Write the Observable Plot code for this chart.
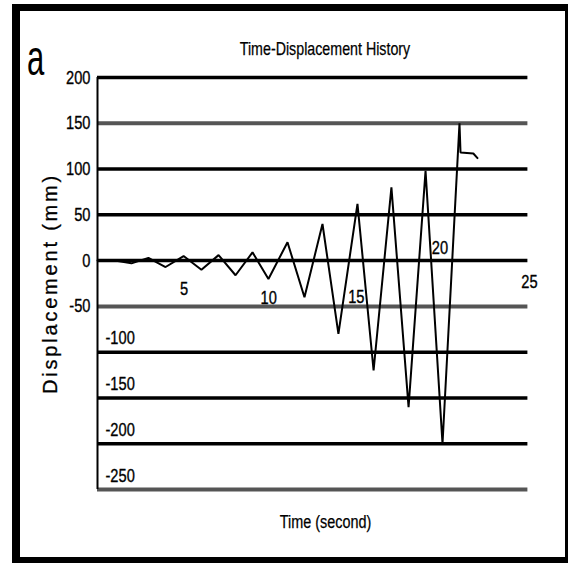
<!DOCTYPE html>
<html>
<head>
<meta charset="utf-8">
<script src="https://cdn.jsdelivr.net/npm/d3@7"></script>
<script src="https://cdn.jsdelivr.net/npm/@observablehq/plot@0.6"></script>
<style>
  html, body { margin: 0; padding: 0; background: #fff; }
  #wrap { position: relative; width: 568px; height: 563px; overflow: hidden; background: #fff; }
  #wrap svg { position: absolute; left: 0; top: 0; }
  .bar { position: absolute; background: #000; }
  #panel { position: absolute; left: 27px; top: 32.7px; font-family: 'Liberation Sans', Arial, sans-serif;
           font-size: 50px; line-height: 1; transform: scaleX(0.62); transform-origin: left top; color: #000; }
</style>
</head>
<body>
<div id="wrap"></div>
<script>
// ---- data ----
const times = [0, 1.0, 1.96, 2.94, 3.93, 4.97, 6.0, 6.99, 7.97, 8.95, 9.87, 10.97, 11.95, 12.99, 13.91, 15.01, 15.94, 16.97, 17.96, 18.94, 19.92, 20.9, 20.96, 21.7, 21.94];
const displacement = [0, 0, -3, 3, -7, 5, -10, 6, -16, 9, -20, 20, -40, 40, -80, 62, -120, 80, -160, 98, -200, 150, 118, 117, 112];
const yTicks = [200, 150, 100, 50, 0, -50, -100, -150, -200, -250];
const xTicks = [5, 10, 15, 20, 25];
const title = "Time-Displacement History";
const xTitle = "Time (second)";
const yTitle = "Displacement (mm)";
const panelLabel = "a";

const series = times.map((t, i) => ({t, v: displacement[i]}));
const sans = "'Liberation Sans', Arial, Helvetica, sans-serif";

// layout tweaks for x tick labels (as placed in the reference)
function xLabelOffset(t) {
  if (t === 20) return {dx: -4, dy: -13};
  if (t === 10) return {dx: -2, dy: 37};
  if (t === 15) return {dx: -1, dy: 36};
  if (t === 25) return {dx: -1, dy: 21};
  return {dx: 0, dy: 28};
}
const grayLines = new Set([150, -50, -250]);
const ink = {fill: "#000", stroke: "#000", strokeWidth: 0.35};

const chart = Plot.plot({
  width: 568,
  height: 563,
  marginLeft: 97,
  marginRight: 38,
  marginTop: 77,
  marginBottom: 74,
  x: {domain: [0, 25], axis: null},
  y: {domain: [-250, 200], axis: null},
  style: {background: "white", fontFamily: sans, color: "black", overflow: "visible"},
  marks: [
    Plot.ruleY(yTicks.filter(d => !grayLines.has(d)), {x1: 0, x2: 24.85, stroke: "#000", strokeWidth: 3.5}),
    Plot.ruleY(yTicks.filter(d => grayLines.has(d)), {x1: 0, x2: 24.85, stroke: "#555", strokeWidth: 4}),
    Plot.ruleX([0], {y1: -250, y2: 200, stroke: "#000", strokeWidth: 2}),
    Plot.line(series, {x: "t", y: "v", stroke: "#000", strokeWidth: 2, strokeLinejoin: "miter"}),
    // y tick labels: left of the axis for >= -50, inside above the line for <= -100
    Plot.text(yTicks.filter(d => d >= -50), {x: 0, y: d => d, text: d => String(d), textAnchor: "end", dx: -7, fontSize: 19, ...ink}),
    Plot.text(yTicks.filter(d => d <= -100), {x: 0, y: d => d, text: d => String(d), textAnchor: "start", dx: 8, dy: -14, fontSize: 19, ...ink}),
    // x tick labels
    ...xTicks.map(t => Plot.text([t], {x: d => d, y: 0, text: d => String(d), ...xLabelOffset(t), fontSize: 19, ...ink})),
    // titles
    Plot.text([title], {frameAnchor: "top", lineAnchor: "middle", dx: 11, dy: -28.6, fontSize: 18.5, ...ink, strokeWidth: 0.25}),
    Plot.text([xTitle], {frameAnchor: "bottom", lineAnchor: "middle", dx: 11.5, dy: 33, fontSize: 18, ...ink, strokeWidth: 0.25}),
    Plot.text([yTitle], {frameAnchor: "left", textAnchor: "middle", lineAnchor: "middle", rotate: -90, dx: -46.5, fontSize: 20, ...ink, strokeWidth: 0.3})
  ]
});

const wrap = document.getElementById("wrap");
wrap.appendChild(chart);

// condensed lettering as in the reference: squeeze glyphs horizontally
d3.select(chart).selectAll("text").each(function() {
  const s = this.textContent;
  if (s === yTitle) {
    d3.select(this).style("letter-spacing", "2.8px");
    return;
  }
  const k = s === xTitle ? 0.8 : 0.77;
  const L = this.getComputedTextLength();
  if (L > 0) {
    this.setAttribute("textLength", (L * k).toFixed(2));
    this.setAttribute("lengthAdjust", "spacingAndGlyphs");
  }
});

// panel label
const lab = document.createElement("div");
lab.id = "panel";
lab.textContent = panelLabel;
wrap.appendChild(lab);

// black picture frame
[
  {left: 12, top: 4, width: 8, height: 559},
  {left: 12, top: 4, width: 556, height: 7},
  {left: 565, top: 4, width: 3, height: 559},
  {left: 12, top: 557, width: 556, height: 6}
].forEach(b => {
  const d = document.createElement("div");
  d.className = "bar";
  Object.assign(d.style, {left: b.left + "px", top: b.top + "px", width: b.width + "px", height: b.height + "px"});
  wrap.appendChild(d);
});
</script>
</body>
</html>
